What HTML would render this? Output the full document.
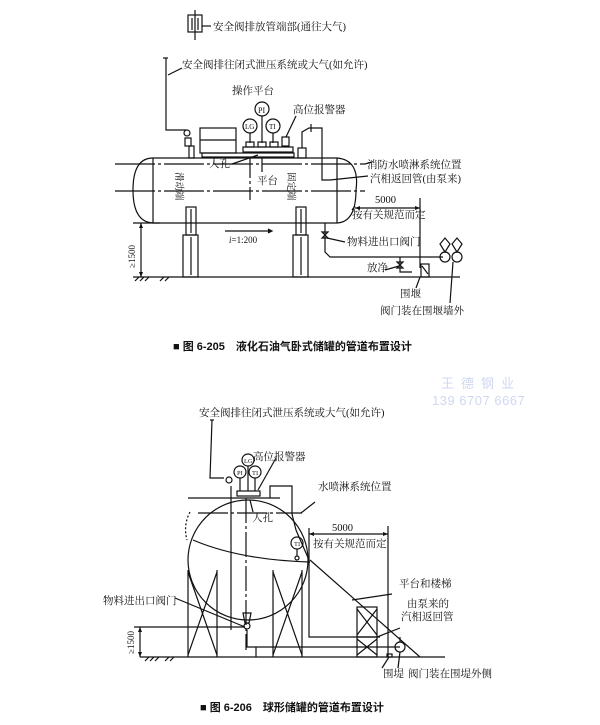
<!DOCTYPE html>
<html><head><meta charset="utf-8"><style>
html,body{margin:0;padding:0;background:#fff;}
svg{display:block;}
text{font-family:"Liberation Serif","Noto Serif CJK SC","Noto Sans CJK SC",serif;font-size:10.5px;fill:#111;}
.b{font-family:"Liberation Sans","Noto Sans CJK SC",sans-serif;font-weight:bold;font-size:11px;}
.w{font-family:"Liberation Sans","Noto Sans CJK SC",sans-serif;fill:#d0d7f3;font-size:13px;}
</style></head><body>
<svg width="600" height="725" viewBox="0 0 600 725" xmlns="http://www.w3.org/2000/svg">
<g fill="none" stroke="#111" stroke-width="1.2">
<rect x="188" y="15" width="14" height="17"/>
<line x1="192" y1="18" x2="192" y2="30"/><line x1="198" y1="18" x2="198" y2="30"/>
<line x1="195" y1="10" x2="195" y2="40"/>
<line x1="202" y1="26" x2="211" y2="26"/>
<polyline points="163,58 168,58"/>
<polyline points="166,58 166,130 186,130"/>
<line x1="168" y1="75" x2="182" y2="68"/>
<circle cx="187" cy="133" r="3"/>
<rect x="185" y="138" width="6" height="8"/>
<rect x="189" y="146" width="5" height="12"/>
<rect x="200" y="128" width="36" height="25"/>
<line x1="200" y1="140" x2="236" y2="140"/>
<rect x="202" y="153" width="92" height="4"/>
<circle cx="262" cy="109" r="7"/><circle cx="250" cy="126" r="7"/><circle cx="273" cy="126" r="7"/>
<line x1="262" y1="116" x2="262" y2="143"/><line x1="250" y1="133" x2="250" y2="143"/><line x1="273" y1="133" x2="273" y2="143"/>
<rect x="243" y="147" width="50" height="5"/>
<rect x="246" y="142" width="8" height="5"/><rect x="258" y="142" width="8" height="5"/><rect x="270" y="142" width="8" height="5"/>
<rect x="282" y="137" width="7" height="9"/>
<line x1="286" y1="137" x2="296" y2="116"/>
<rect x="298" y="148" width="8" height="10"/>
<polyline points="302,148 302,132 309,128 320,128"/>
<polyline points="320,128 322,128 322,180 330,180"/>
<line x1="311" y1="124" x2="311" y2="132"/>
<path d="M153,158 L337,158 Q360,160 356,190 Q356,222 337,223 L153,223 Q133,222 133,190 Q133,158 153,158 Z"/>
<line x1="153" y1="158" x2="153" y2="223"/><line x1="337" y1="158" x2="337" y2="223"/>
<line x1="115" y1="164" x2="365" y2="164" stroke-dasharray="40 3 3 3"/>
<line x1="115" y1="191" x2="365" y2="191" stroke-dasharray="40 3 3 3"/>
<line x1="250" y1="158" x2="250" y2="200" stroke-dasharray="20 3 3 3"/>
<line x1="232" y1="164" x2="258" y2="155"/><line x1="262" y1="172" x2="262" y2="157"/>
<line x1="365" y1="164" x2="372" y2="162"/>
<line x1="330" y1="180" x2="368" y2="176"/>
<rect x="186" y="207" width="10" height="28"/><line x1="191" y1="209" x2="191" y2="233"/>
<rect x="183" y="235" width="15" height="42"/><line x1="191" y1="237" x2="191" y2="275"/>
<rect x="296" y="207" width="10" height="28"/><line x1="301" y1="209" x2="301" y2="233"/>
<rect x="293" y="235" width="15" height="42"/><line x1="301" y1="237" x2="301" y2="275"/>
<line x1="225" y1="231" x2="268" y2="231"/><path d="M268,229 L272,231 L268,233" fill="#111"/>
<line x1="133" y1="223" x2="160" y2="223"/>
<line x1="141" y1="223" x2="141" y2="277"/>
<line x1="133" y1="277" x2="460" y2="277"/>
<path d="M135,281 l4,-4 M140,281 l4,-4 M145,281 l4,-4 M160,281 l4,-4 M165,281 l4,-4"/>
<line x1="355" y1="208" x2="420" y2="208"/>
<line x1="420" y1="198" x2="420" y2="268"/>
<line x1="352" y1="210" x2="355" y2="206"/>
<polyline points="325,223 325,252 330,257 443,257"/>
<path d="M322,232 l6,0 l-6,6 l6,0 z"/>
<line x1="327" y1="238" x2="345" y2="242"/>
<polyline points="400,257 400,272 412,272"/>
<path d="M397,262 l6,0 l-6,6 l6,0 z"/>
<line x1="385" y1="270" x2="399" y2="266"/>
<rect x="421" y="264" width="8" height="13"/>
<path d="M422,266 l6,8" />
<circle cx="445" cy="257" r="5"/><circle cx="457" cy="257" r="5"/>
<path d="M445,252 L440,244 L445,238 L450,244 Z M457,252 L452,244 L457,238 L462,244 Z"/>
<line x1="420" y1="277" x2="416" y2="288"/>
<line x1="453" y1="262" x2="450" y2="303"/>

<polyline points="210,420 214,420"/>
<polyline points="212,420 210,478 224,478"/>
<circle cx="229" cy="480" r="3"/>
<line x1="231" y1="486" x2="231" y2="630"/>
<circle cx="248" cy="560" r="60"/>
<line x1="188" y1="498" x2="280" y2="498"/>
<line x1="198" y1="513" x2="302" y2="513" stroke-dasharray="30 3 3 3"/>
<line x1="246" y1="498" x2="246" y2="650" stroke-dasharray="25 3 3 3"/>
<path d="M193,540 Q240,560 310,562"/>
<path d="M190,512 Q183,525 187,540" stroke-dasharray="2 2"/>
<rect x="237" y="491" width="23" height="5"/>
<circle cx="248" cy="460" r="6"/><circle cx="240" cy="472" r="6"/><circle cx="255" cy="472" r="6"/>
<line x1="248" y1="466" x2="248" y2="491"/><line x1="240" y1="478" x2="240" y2="491"/><line x1="255" y1="478" x2="255" y2="491"/>
<line x1="258" y1="490" x2="276" y2="458"/>
<line x1="250" y1="500" x2="253" y2="512"/>
<polyline points="270,498 270,486 290,486 292,486 292,514 296,530 309,560 309,637 380,637"/>
<line x1="301" y1="513" x2="315" y2="502"/>
<circle cx="297" cy="543" r="6"/>
<line x1="297" y1="549" x2="297" y2="556"/><circle cx="297" cy="558" r="2"/>
<line x1="188" y1="570" x2="188" y2="657"/><line x1="217" y1="570" x2="217" y2="657"/>
<line x1="273" y1="570" x2="273" y2="657"/><line x1="302" y1="570" x2="302" y2="657"/>
<path d="M188,572 L217,655 M217,572 L188,655 M273,572 L302,655 M302,572 L273,655"/>
<path d="M243,613 h8 l-2,10 h-4 z"/>
<circle cx="247" cy="626" r="3"/>
<polyline points="247,630 247,647 400,647"/>
<line x1="175" y1="598" x2="245" y2="627"/>
<line x1="256" y1="647" x2="256" y2="657"/>
<line x1="309" y1="534" x2="388" y2="534"/>
<line x1="388" y1="526" x2="388" y2="657"/>
<line x1="309" y1="528" x2="309" y2="560"/>
<rect x="357" y="607" width="20" height="50"/>
<line x1="357" y1="637" x2="377" y2="637"/>
<path d="M357,609 L377,635 M377,609 L357,635 M357,639 L377,655 M377,639 L357,655"/>
<line x1="310" y1="560" x2="420" y2="657"/>
<line x1="352" y1="600" x2="392" y2="594"/>
<line x1="377" y1="637" x2="400" y2="628"/>
<circle cx="400" cy="647" r="5"/><line x1="400" y1="637" x2="400" y2="642"/>
<rect x="387" y="654" width="5" height="3"/>
<line x1="134" y1="627" x2="245" y2="627"/>
<line x1="140" y1="627" x2="140" y2="657"/>
<line x1="140" y1="657" x2="445" y2="657"/>
<path d="M145,661 l4,-4 M150,661 l4,-4 M155,661 l4,-4 M165,661 l4,-4 M170,661 l4,-4"/>
<line x1="389" y1="657" x2="382" y2="668"/><line x1="400" y1="652" x2="398" y2="668"/>
</g>
<g fill="#111" stroke="none">
<path d="M141,223 l-2,5 h4 z M141,277 l-2,-5 h4 z M140,627 l-2,5 h4z M140,657 l-2,-5h4z M355,208 l5,-2 v4z M420,208 l-5,-2 v4z M309,534 l5,-2 v4z M388,534 l-5,-2 v4z"/>
</g>
<text x="213" y="30">安全阀排放管端部(通往大气)</text>
<text x="182" y="68">安全阀排往闭式泄压系统或大气(如允许)</text>
<text x="232" y="94">操作平台</text>
<text x="293" y="113">高位报警器</text>
<text x="258" y="113" style="font-size:8px">PI</text>
<text x="245" y="129" style="font-size:7px">LG</text>
<text x="269" y="129" style="font-size:7px">TI</text>
<text x="209" y="167">人孔</text>
<text x="257" y="184">平台</text>
<text x="367" y="168">消防水喷淋系统位置</text>
<text x="370" y="182">汽相返回管(由泵来)</text>
<text x="375" y="203">5000</text>
<text x="352" y="218">按有关规范而定</text>
<text x="229" y="243" style="font-size:9px"><tspan font-style="italic">i</tspan>=1:200</text>
<text x="347" y="245">物料进出口阀门</text>
<text x="367" y="271">放净</text>
<text x="400" y="297">围堰</text>
<text x="380" y="314">阀门装在围堰墙外</text>
<text transform="translate(176,172) rotate(90)" style="font-size:9.5px">滑动端</text>
<text transform="translate(288,172) rotate(90)" style="font-size:9.5px">固定端</text>
<text transform="translate(135,268) rotate(-90)" style="font-size:9px">≥1500</text>
<text class="b" x="173" y="350">■ 图 6-205　液化石油气卧式储罐的管道布置设计</text>
<text class="w" x="441" y="388" letter-spacing="7">王德钢业</text>
<text class="w" x="432" y="405" letter-spacing="0.5">139 6707 6667</text>
<text x="199" y="416">安全阀排往闭式泄压系统或大气(如允许)</text>
<text x="253" y="460">高位报警器</text>
<text x="244" y="463" style="font-size:6.5px">LG</text>
<text x="237" y="475" style="font-size:6.5px">PI</text>
<text x="252" y="475" style="font-size:6.5px">TI</text>
<text x="318" y="490">水喷淋系统位置</text>
<text x="252" y="521">人孔</text>
<text x="332" y="531">5000</text>
<text x="313" y="547">按有关规范而定</text>
<text x="294" y="546" style="font-size:6.5px">TI</text>
<text x="399" y="587">平台和楼梯</text>
<text x="407" y="607">由泵来的</text>
<text x="401" y="620">汽相返回管</text>
<text x="103" y="604">物料进出口阀门</text>
<text x="383" y="677">围堤</text>
<text x="408" y="677">阀门装在围堤外侧</text>
<text transform="translate(134,654) rotate(-90)" style="font-size:9px">≥1500</text>
<text class="b" x="200" y="711">■ 图 6-206　球形储罐的管道布置设计</text>
</svg>
</body></html>
